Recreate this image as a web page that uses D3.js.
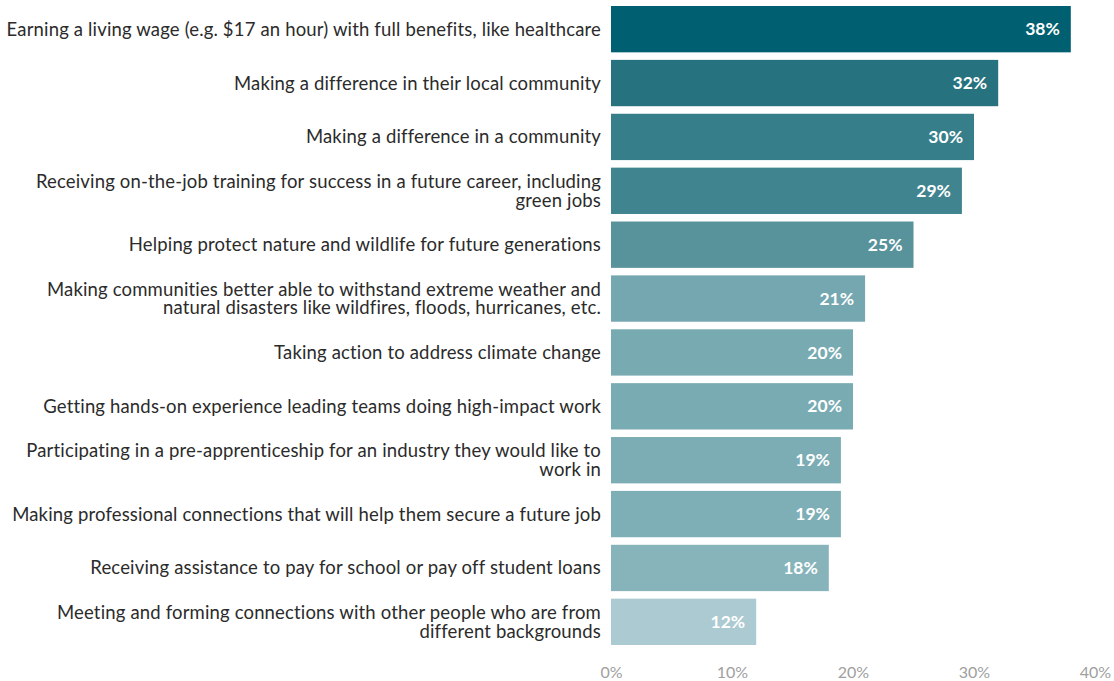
<!DOCTYPE html>
<html>
<head>
<meta charset="utf-8">
<script src="https://cdn.jsdelivr.net/npm/d3@7"></script>
<style>
  html, body { margin: 0; padding: 0; background: #ffffff; }
  svg { display: block; }
  .cat { font-family: Lato, "Noto Sans", sans-serif; font-size: 18.5px; letter-spacing: 0.16px; fill: #2b2b2b; }
  .val { font-family: Lato, "Noto Sans", sans-serif; font-size: 17.5px; font-weight: 700; fill: #ffffff; }
  .tick text { font-family: Lato, "Noto Sans", sans-serif; font-size: 16px; fill: #a0a0a0; }
</style>
</head>
<body>
<svg id="chart" width="1114" height="681"></svg>
<script>
// Each category is split into its display lines.
const categories = [
  ["Earning a living wage (e.g. $17 an hour) with full benefits, like healthcare"],
  ["Making a difference in their local community"],
  ["Making a difference in a community"],
  ["Receiving on-the-job training for success in a future career, including", "green jobs"],
  ["Helping protect nature and wildlife for future generations"],
  ["Making communities better able to withstand extreme weather and", "natural disasters like wildfires, floods, hurricanes, etc."],
  ["Taking action to address climate change"],
  ["Getting hands-on experience leading teams doing high-impact work"],
  ["Participating in a pre-apprenticeship for an industry they would like to", "work in"],
  ["Making professional connections that will help them secure a future job"],
  ["Receiving assistance to pay for school or pay off student loans"],
  ["Meeting and forming connections with other people who are from", "different backgrounds"]
];
const values = [38, 32, 30, 29, 25, 21, 20, 20, 19, 19, 18, 12];
const tickValues = [0, 10, 20, 30, 40];

// Bar fills, darkest for the top item
const barColors = ["#005f70", "#26737f", "#367f8a", "#3f848f", "#58929b", "#74a7af",
                   "#78aab2", "#79abb3", "#7cadb5", "#7eaeb6", "#87b4bb", "#abcad1"];

const svg = d3.select("#chart");
const plotLeft = 611, plotRight = 1095, plotTop = 6, plotBottom = 645;

const x = d3.scaleLinear().domain([0, 40]).range([plotLeft, plotRight]);
const y = d3.scaleBand()
  .domain(d3.range(values.length))
  .range([plotTop, plotBottom])
  .paddingInner(0.14)
  .paddingOuter(0);

const rows = svg.append("g").selectAll("g")
  .data(values)
  .join("g");

rows.append("rect")
  .attr("x", x(0))
  .attr("y", (d, i) => y(i))
  .attr("width", d => x(d) - x(0))
  .attr("height", y.bandwidth())
  .attr("fill", (d, i) => barColors[i]);

rows.append("text")
  .attr("class", "val")
  .attr("x", d => x(d) - 11)
  .attr("y", (d, i) => y(i) + y.bandwidth() / 2)
  .attr("dy", "0.35em")
  .attr("text-anchor", "end")
  .text(d => d + "%");

// Category labels, right-aligned beside the bars
const lineH = 18.5;
rows.append("text")
  .attr("class", "cat")
  .attr("text-anchor", "end")
  .each(function (d, i) {
    const lines = categories[i];
    const cy = y(i) + y.bandwidth() / 2;
    const t = d3.select(this);
    lines.forEach((ln, k) => {
      t.append("tspan")
        .attr("x", x(0) - 10)
        .attr("y", cy + (k - (lines.length - 1) / 2) * lineH)
        .attr("dy", "0.35em")
        .text(ln);
    });
  });

// Bottom axis: labels only
const axis = d3.axisBottom(x)
  .tickValues(tickValues)
  .tickFormat(d => d + "%")
  .tickSize(0)
  .tickPadding(0);

const gAxis = svg.append("g")
  .attr("transform", `translate(0, ${plotBottom + 22})`)
  .call(axis);
gAxis.select(".domain").remove();
gAxis.selectAll(".tick text").attr("dy", "0.71em");
</script>
</body>
</html>
